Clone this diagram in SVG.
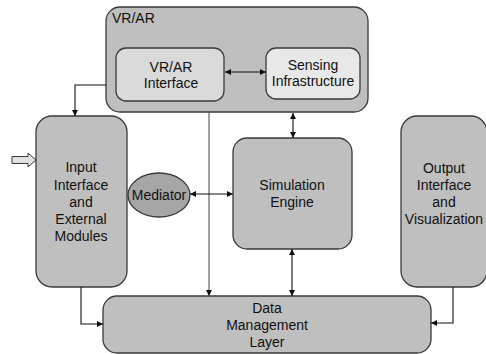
<svg xmlns="http://www.w3.org/2000/svg" width="486" height="354" viewBox="0 0 486 354">
<style>
.box{fill:#bfbfbf;stroke:#3a3a3a;stroke-width:1.3}
.inner1{fill:#dadada;stroke:#3a3a3a;stroke-width:1.3}
.inner2{fill:#e8e8e8;stroke:#3a3a3a;stroke-width:1.3}
.med{fill:#a6a6a6;stroke:#3a3a3a;stroke-width:1.3}
text{font-family:"Liberation Sans",Arial,sans-serif;font-size:14px;fill:#111;text-anchor:middle}
.c{fill:none;stroke:#111;stroke-width:1.1}
.g{fill:none;stroke:#555;stroke-width:1.1}
</style>
<defs>
<marker id="ae" markerUnits="userSpaceOnUse" markerWidth="8" markerHeight="8" refX="6" refY="3" orient="auto">
<path d="M0,0 L6,3 L0,6 z" fill="#111"/>
</marker>
<marker id="as" markerUnits="userSpaceOnUse" markerWidth="8" markerHeight="8" refX="0" refY="3" orient="auto">
<path d="M6,0 L0,3 L6,6 z" fill="#111"/>
</marker>
</defs>
<g id="vrar">
<rect class="box" x="106" y="7" width="262" height="105" rx="14"/>
<text x="112" y="23" style="text-anchor:start">VR/AR</text>
</g>
<g id="vrar-interface">
<rect class="inner1" x="116" y="48" width="108" height="53" rx="10"/>
<text x="171" y="72">VR/AR</text>
<text x="171" y="88">Interface</text>
</g>
<g id="sensing">
<rect class="inner2" x="266" y="48" width="94" height="51" rx="10"/>
<text x="313" y="70">Sensing</text>
<text x="313" y="86">Infrastructure</text>
</g>
<g id="input">
<rect class="box" x="36" y="116" width="91" height="171" rx="16"/>
<text x="81" y="172">Input</text>
<text x="81" y="190">Interface</text>
<text x="81" y="207">and</text>
<text x="81" y="224">External</text>
<text x="81" y="241">Modules</text>
</g>
<g id="mediator">
<ellipse class="med" cx="159" cy="195" rx="31" ry="22"/>
<text x="159" y="200">Mediator</text>
</g>
<g id="simulation">
<rect class="box" x="233" y="138" width="119" height="111" rx="14"/>
<text x="292" y="190">Simulation</text>
<text x="292" y="207">Engine</text>
</g>
<g id="output">
<rect class="box" x="401" y="116" width="86" height="171" rx="16"/>
<text x="444" y="173">Output</text>
<text x="444" y="190">Interface</text>
<text x="444" y="207">and</text>
<text x="444" y="224">Visualization</text>
</g>
<g id="data">
<rect class="box" x="103" y="296" width="328" height="57" rx="14"/>
<text x="267" y="313">Data</text>
<text x="267" y="330">Management</text>
<text x="267" y="347">Layer</text>
</g>
<g id="connectors">
<path class="c" d="M106,85 H75 V116" marker-end="url(#ae)"/>
<path d="M12,156.5 H28 V153 L36,160 L28,167 V163.5 H12 z" fill="#e0e0e0" stroke="#3a3a3a" stroke-width="1"/>
<path class="c" d="M225,72 H266" marker-start="url(#as)" marker-end="url(#ae)"/>
<path class="c" d="M293,113 V138" marker-start="url(#as)" marker-end="url(#ae)"/>
<path class="g" d="M209,112 V296" marker-end="url(#ae)"/>
<path class="c" d="M190,194 H233" marker-start="url(#as)" marker-end="url(#ae)"/>
<path class="c" d="M292,249 V296" marker-start="url(#as)" marker-end="url(#ae)"/>
<path class="c" d="M81,287 V324 H103" marker-end="url(#ae)"/>
<path class="c" d="M453,287 V323 H431" marker-end="url(#ae)"/>
</g>
</svg>
